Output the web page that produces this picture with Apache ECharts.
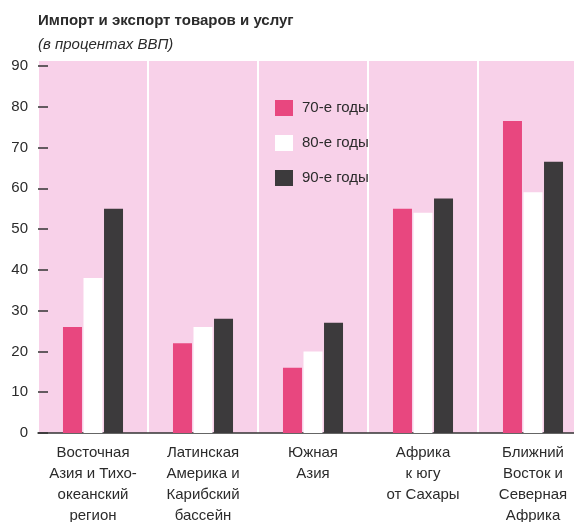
<!DOCTYPE html>
<html>
<head>
<meta charset="utf-8">
<script src="https://cdn.jsdelivr.net/npm/echarts@6/dist/echarts.min.js"></script>
<style>
  html, body { margin: 0; padding: 0; background: #fff; overflow: hidden; }
  #chart { width: 574px; height: 522px; }
</style>
</head>
<body>
<div id="chart"></div>
<script>
// regions along the x axis
const regions = [
  'Восточная\nАзия и Тихо-\nокеанский\nрегион',
  'Латинская\nАмерика и\nКарибский\nбассейн',
  'Южная\nАзия',
  'Африка\nк югу\nот Сахары',
  'Ближний\nВосток и\nСеверная\nАфрика',
];
const seriesNames = ['70-е годы', '80-е годы', '90-е годы'];
// percent of GDP
const values70s = [26, 22, 16, 55, 76.5];
const values80s = [38, 26, 20, 54, 59];
const values90s = [55, 28, 27, 57.5, 66.5];
const yTicks = [0, 10, 20, 30, 40, 50, 60, 70, 80, 90];

const textColor = '#2b2b2b';
const font = '"Liberation Sans", Arial, sans-serif';

const chart = echarts.init(document.getElementById('chart'));

const barStyle = (color) => ({
  type: 'bar',
  barWidth: 19,
  barGap: '8%',
  itemStyle: { color },
  emphasis: { disabled: true },
});

const option = {
  animation: false,
  textStyle: { fontFamily: font, color: textColor },
  title: {
    text: 'Импорт и экспорт товаров и услуг',
    subtext: '(в процентах ВВП)',
    left: 33,
    top: 8,
    itemGap: 9,
    textStyle: { fontSize: 15, fontWeight: 'bold', color: textColor, fontFamily: font },
    subtextStyle: { fontSize: 15, fontStyle: 'italic', color: textColor, fontFamily: font },
  },
  legend: {
    orient: 'vertical',
    left: 270,
    top: 95,
    itemWidth: 18,
    itemHeight: 16,
    itemGap: 19,
    icon: 'rect',
    selectedMode: false,
    data: seriesNames,
    textStyle: { fontSize: 15, color: textColor, fontFamily: font, padding: [0, 0, 0, 4] },
  },
  // the source picture is cut off on the right, so the grid runs past the canvas
  grid: {
    left: 38,
    top: 61,
    width: 550,
    height: 372,
    outerBoundsMode: 'none',
    show: true,
    backgroundColor: '#f8d1e9',
    borderWidth: 0,
  },
  xAxis: {
    type: 'category',
    data: regions,
    axisLine: { lineStyle: { color: '#333', width: 1.5 } },
    axisTick: { show: false },
    splitLine: { show: true, lineStyle: { color: '#ffffff', width: 2 } },
    axisLabel: {
      interval: 0,
      margin: 9,
      fontSize: 15,
      lineHeight: 21,
      color: textColor,
      fontFamily: font,
    },
  },
  yAxis: {
    type: 'value',
    min: 0,
    max: 91.2,
    axisLine: { show: false },
    splitLine: { show: false },
    axisTick: {
      show: true,
      inside: true,
      length: 10,
      customValues: yTicks,
      lineStyle: { color: '#333', width: 1.5 },
    },
    axisLabel: {
      customValues: yTicks,
      margin: 10,
      fontSize: 15,
      color: textColor,
      fontFamily: font,
    },
  },
  series: [
    { name: seriesNames[0], data: values70s, ...barStyle('#e8477f') },
    { name: seriesNames[1], data: values80s, ...barStyle('#ffffff') },
    { name: seriesNames[2], data: values90s, ...barStyle('#3c3a3c') },
  ],
};

chart.setOption(option);
</script>
</body>
</html>
